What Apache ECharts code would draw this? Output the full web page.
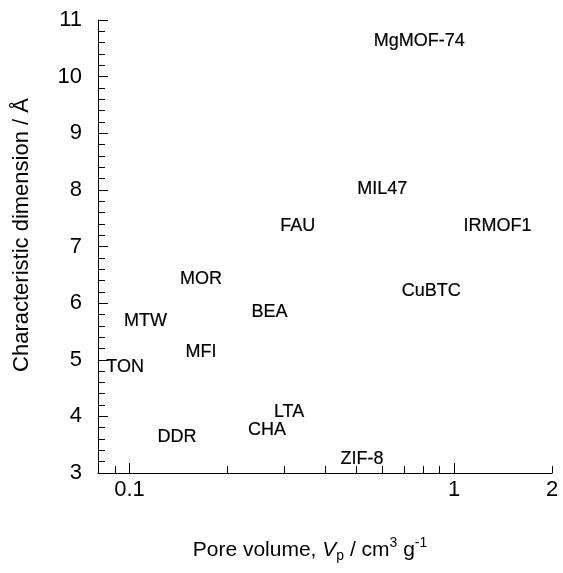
<!DOCTYPE html>
<html>
<head>
<meta charset="utf-8">
<script src="https://cdn.jsdelivr.net/npm/echarts@6/dist/echarts.min.js"></script>
<style>
html,body{margin:0;padding:0;background:#fff;}
#chart{width:563px;height:573px;}
</style>
</head>
<body>
<div id="chart"></div>
<script>
// ---- data ----
const materials = ['MgMOF-74','MIL47','FAU','IRMOF1','MOR','CuBTC','BEA','MTW','MFI','TON','LTA','CHA','DDR','ZIF-8'];
const poreVolume = [0.78, 0.60, 0.33, 1.36, 0.166, 0.85, 0.27, 0.112, 0.166, 0.097, 0.31, 0.265, 0.14, 0.52];
const dimension  = [10.63, 8.01, 7.36, 7.36, 6.42, 6.22, 5.85, 5.68, 5.14, 4.87, 4.07, 3.76, 3.64, 3.25];
const xMajorTicks = [0.1, 1];
const xMinorTicks = [0.09, 0.2, 0.3, 0.4, 0.5, 0.6, 0.7, 0.8, 0.9, 2];
const xTickLabelValues = [0.1, 1, 2];
const xTickLabels = ['0.1', '1', '2'];

const FONT = '"Liberation Sans", Arial, sans-serif';
const chart = echarts.init(document.getElementById('chart'), null, {renderer: 'canvas'});

function tickSeries(values, len) {
  return {
    type: 'custom',
    clip: false,
    silent: true,
    data: values.map(v => [v, 3]),
    renderItem: function (params, api) {
      const p = api.coord([api.value(0), api.value(1)]);
      const x = Math.round(p[0]) + 0.5;
      return {
        type: 'line',
        shape: {x1: x, y1: p[1], x2: x, y2: p[1] - len},
        style: {stroke: '#000', lineWidth: 1}
      };
    }
  };
}

const option = {
  backgroundColor: '#fff',
  animation: false,
  grid: {left: 98, right: 11, top: 20, bottom: 100, containLabel: false},
  xAxis: {
    type: 'log',
    logBase: 10,
    min: 0.08,
    max: 2,
    axisLine: {show: true, lineStyle: {color: '#000', width: 1}},
    axisTick: {show: false},
    axisLabel: {show: false},
    splitLine: {show: false},
    minorTick: {show: false},
    minorSplitLine: {show: false}
  },
  yAxis: {
    type: 'value',
    min: 3,
    max: 11,
    interval: 1,
    axisLine: {show: true, lineStyle: {color: '#000', width: 1}},
    axisTick: {show: true, inside: true, length: 10, lineStyle: {color: '#000'}},
    minorTick: {show: true, splitNumber: 5, length: 7, lineStyle: {color: '#000'}},
    axisLabel: {margin: 16, color: '#000', fontSize: 22, fontFamily: FONT},
    splitLine: {show: false}
  },
  graphic: [
    {
      type: 'text',
      x: 22, y: 235,
      rotation: Math.PI / 2,
      style: {
        text: 'Characteristic dimension / Å',
        font: '22px ' + FONT,
        fill: '#000',
        align: 'center',
        verticalAlign: 'middle'
      }
    },
    {
      type: 'text',
      x: 310, y: 550,
      style: {
        text: 'Pore volume, {i|V}{sub|p} / cm{sup|3} g{sup|-1}',
        fontSize: 21,
        fontFamily: FONT,
        fill: '#000',
        align: 'center',
        verticalAlign: 'middle',
        rich: {
          i: {fontSize: 21, fontFamily: FONT, fontStyle: 'italic', fill: '#000'},
          sub: {fontSize: 14, fontFamily: FONT, fill: '#000', padding: [12, 0, 0, 0]},
          sup: {fontSize: 14, fontFamily: FONT, fill: '#000', padding: [0, 0, 14, 0]}
        }
      }
    }
  ],
  series: [
    {
      type: 'scatter',
      symbol: 'circle',
      symbolSize: 1,
      itemStyle: {color: '#000', opacity: 0},
      silent: true,
      data: materials.map((n, i) => ({name: n, value: [poreVolume[i], dimension[i]]})),
      label: {
        show: true,
        position: 'inside',
        formatter: '{b}',
        color: '#000',
        opacity: 1,
        fontSize: 18,
        fontFamily: FONT,
        textBorderColor: '#000',
        textBorderWidth: 0.2
      }
    },
    tickSeries(xMajorTicks, 10),
    tickSeries(xMinorTicks, 7),
    {
      type: 'custom',
      clip: false,
      silent: true,
      data: xTickLabelValues.map((v, i) => [v, 3, i]),
      renderItem: function (params, api) {
        const p = api.coord([api.value(0), api.value(1)]);
        return {
          type: 'text',
          x: p[0], y: p[1] + 6,
          style: {
            text: xTickLabels[api.value(2)],
            font: '22px ' + FONT,
            fill: '#000',
            align: 'center',
            verticalAlign: 'top'
          }
        };
      }
    }
  ]
};
chart.setOption(option);
</script>
</body>
</html>
